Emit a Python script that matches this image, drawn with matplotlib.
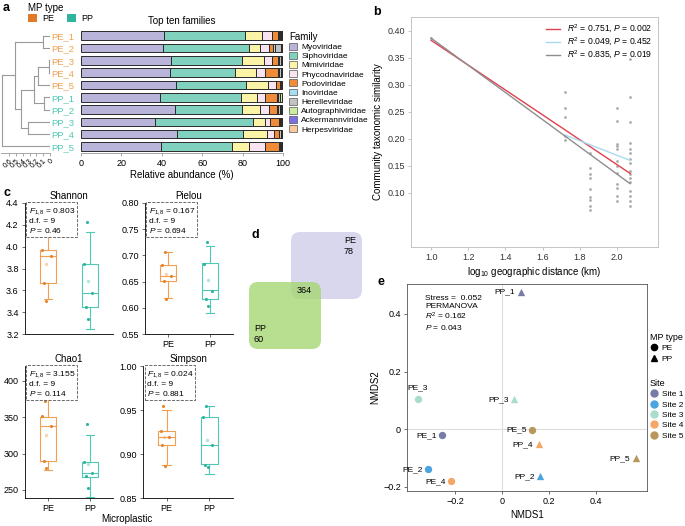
import numpy as np
import matplotlib.pyplot as plt
from matplotlib.patches import Patch, FancyBboxPatch
from matplotlib.lines import Line2D

plt.rcParams['font.family'] = ['Liberation Sans', 'DejaVu Sans']
plt.rcParams['mathtext.fontset'] = 'custom'
plt.rcParams['mathtext.rm'] = 'Liberation Sans'
plt.rcParams['mathtext.it'] = 'Liberation Sans:italic'
plt.rcParams['font.size'] = 6.5
plt.rcParams['axes.linewidth'] = 0.6
plt.rcParams['xtick.major.width'] = 0.6
plt.rcParams['ytick.major.width'] = 0.6
plt.rcParams['xtick.major.size'] = 2.5
plt.rcParams['ytick.major.size'] = 2.5

# ---------------- data ----------------
samples = ['PE_1', 'PE_2', 'PE_3', 'PE_4', 'PE_5', 'PP_1', 'PP_2', 'PP_3', 'PP_4', 'PP_5']
families = ['Myoviridae', 'Siphoviridae', 'Mimiviridae', 'Phycodnaviridae', 'Podoviridae',
            'Inoviridae', 'Herelleviridae', 'Autographiviridae', 'Ackermannviridae', 'Herpesviridae']
myo = [40.9, 40.4, 44.6, 44.3, 46.8, 38.9, 46.6, 36.7, 47.4, 39.7]
sipho = [40.5, 42.6, 35.1, 32.1, 35.1, 40.5, 33.1, 48.5, 32.8, 34.9]
mimi = [8.2, 5.8, 10.9, 10.4, 10.5, 7.6, 8.9, 5.9, 11.9, 8.6]
phyco = [5.0, 4.3, 4.0, 4.3, 4.1, 4.3, 4.5, 2.6, 3.5, 7.9]
podo = [2.9, 2.1, 2.9, 6.4, 1.8, 5.9, 3.9, 4.5, 2.3, 7.1]
ino = [0.3, 1.0, 0.3, 0.3, 0.2, 0.3, 0.3, 0.2, 0.2, 0.2]
herelle = [0.8, 2.6, 1.2, 1.0, 0.6, 0.8, 1.2, 0.6, 0.8, 0.6]
autograph = [0.5, 0.4, 0.3, 0.5, 0.3, 1.0, 0.7, 0.4, 0.5, 0.4]
acker = [0.3, 0.2, 0.2, 0.2, 0.2, 0.2, 0.2, 0.2, 0.2, 0.2]
herpes = [0.6, 0.6, 0.5, 0.5, 0.4, 0.5, 0.6, 0.4, 0.4, 0.4]
fam_colors = ['#B9B4D9', '#80D2BE', '#FBF3A6', '#F8E3F1', '#EE8C3A',
              '#A8DCF4', '#C2C2C2', '#CBEE9E', '#7C70E0', '#FBC99C']

# dendrogram merges: (child a, child b, height); leaves 0-9 in display order
merges = [(0, 1, 0.10), (2, 3, 0.01), (11, 4, 0.175), (5, 6, 0.09), (12, 13, 0.23),
          (7, 8, 0.32), (14, 15, 0.43), (10, 16, 0.51), (17, 9, 0.70)]

# panel b
dist_levels = [1.0, 1.72, 1.855, 2.0, 2.07]
sim_by_dist = [
    [0.387],
    [0.287, 0.256, 0.240, 0.206, 0.198],
    [0.173, 0.146, 0.135, 0.127, 0.108, 0.092, 0.087, 0.075, 0.068],
    [0.256, 0.233, 0.190, 0.186, 0.181, 0.158, 0.149, 0.137, 0.117, 0.109, 0.095, 0.085],
    [0.347, 0.278, 0.231, 0.193, 0.182, 0.173, 0.163, 0.155, 0.141, 0.134, 0.127, 0.121,
     0.104, 0.094, 0.085, 0.075],
]
fit_x = [[1.0, 2.07], [1.72, 2.07], [1.0, 2.07]]
fit_y = [[0.382, 0.136], [0.207, 0.160], [0.386, 0.117]]
fit_labels = [r'$R^2$ = 0.751, $P$ = 0.002', r'$R^2$ = 0.049, $P$ = 0.452',
              r'$R^2$ = 0.835, $P$ = 0.019']
fit_colors = ['#E0404E', '#A9D9EF', '#8E8E8E']

# panel c: box stats (whislo, q1, med, q3, whishi), points, mean
metrics = ['Shannon', 'Pielou', 'Chao1', 'Simpson']
box_pe = [[3.52, 3.67, 3.91, 3.97, 4.16], [0.619, 0.652, 0.661, 0.682, 0.706],
          [277, 290, 338, 350, 375], [0.888, 0.910, 0.919, 0.926, 0.950]]
box_pp = [[3.25, 3.45, 3.58, 3.84, 4.13], [0.590, 0.617, 0.634, 0.686, 0.717],
          [241, 268, 273, 288, 326], [0.877, 0.889, 0.910, 0.942, 0.954]]
pts_pe = [[4.14, 3.97, 3.91, 3.67, 3.50], [0.706, 0.681, 0.661, 0.652, 0.617],
          [372, 351, 338, 290, 280], [0.955, 0.926, 0.919, 0.910, 0.886]]
pts_pp = [[4.23, 3.84, 3.58, 3.45, 3.34], [0.725, 0.684, 0.633, 0.616, 0.603],
          [341, 288, 273, 269, 253], [0.954, 0.942, 0.910, 0.888, 0.885]]
mean_pe = [3.84, 0.665, 326, 0.919]
mean_pp = [3.69, 0.653, 285, 0.916]
jitter = [-0.08, -0.14, 0.06, -0.1, -0.04]
f_vals = ['0.803', '0.167', '3.155', '0.024']
p_vals = ['0.46', '0.694', '0.114', '0.881']
ylims_c = [(3.2, 4.4), (0.55, 0.80), (239, 420), (0.85, 1.00)]
yticks_c = [[3.2, 3.4, 3.6, 3.8, 4.0, 4.2, 4.4], [0.55, 0.60, 0.65, 0.70, 0.75, 0.80],
            [250, 300, 350, 400], [0.85, 0.90, 0.95, 1.00]]
ytick_fmt = ['{:.1f}', '{:.2f}', '{:.0f}', '{:.2f}']

# panel d
venn_counts = {'PE': 78, 'both': 364, 'PP': 60}

# panel e
nmds_names = ['PE_1', 'PE_2', 'PE_3', 'PE_4', 'PE_5', 'PP_1', 'PP_2', 'PP_3', 'PP_4', 'PP_5']
nmds1 = [-0.255, -0.315, -0.357, -0.217, 0.128, 0.081, 0.162, 0.051, 0.157, 0.570]
nmds2 = [-0.021, -0.139, 0.104, -0.181, -0.003, 0.476, -0.163, 0.104, -0.052, -0.101]
site_idx = [0, 1, 2, 3, 4, 0, 1, 2, 3, 4]
site_names = ['Site 1', 'Site 2', 'Site 3', 'Site 4', 'Site 5']
site_colors = ['#777CA6', '#4BA4DE', '#A9DDCB', '#F5A768', '#B8975C']

PE_C, PP_C = '#F0A050', '#4FC9B5'
PE_DARK, PP_DARK = '#E5842C', '#2FB59E'

# ---------------- figure ----------------
W, H = 685, 526
fig = plt.figure(figsize=(W / 100, H / 100), dpi=100)


def box(l, t, r, b):
    return [l / W, 1 - b / H, (r - l) / W, (b - t) / H]


# ---- a: stacked bars ----
ax = fig.add_axes(box(81, 29.6, 283, 153))
ypos = np.arange(len(samples))
left = np.zeros(len(samples))
for vals, col in zip([myo, sipho, mimi, phyco, podo, ino, herelle, autograph, acker, herpes], fam_colors):
    ax.barh(ypos, vals, left=left, height=0.7, color=col, edgecolor='#2a2a2a', linewidth=0.7)
    left += np.array(vals)
ax.set_ylim(9.53, -0.5)
ax.set_xlim(0, 100)
ax.set_yticks(ypos)
ax.set_yticklabels(samples, fontsize=6.8)
for lab, s in zip(ax.get_yticklabels(), samples):
    lab.set_color(PE_C if s.startswith('PE') else PP_C)
ax.tick_params(axis='y', length=0, pad=5)
ax.set_xticks([0, 20, 40, 60, 80, 100])
ax.tick_params(axis='x', labelsize=6.5, color='#999999', pad=2)
for sp in ['top', 'right', 'left']:
    ax.spines[sp].set_visible(False)
ax.spines['bottom'].set_color('#999999')
ax.set_xlabel('Relative abundance (%)', fontsize=7, labelpad=1)
ax.set_title('Top ten families', fontsize=7, pad=4)

# dendrogram
axd = fig.add_axes(box(1, 29.6, 50, 153))
node_y = {i: float(i) for i in range(len(samples))}
node_h = {i: 0.0 for i in range(len(samples))}
for k, (a, b, h) in enumerate(merges):
    nid = len(samples) + k
    for c in (a, b):
        axd.plot([node_h[c], h], [node_y[c], node_y[c]], color='#9A9A9A', lw=0.8)
    axd.plot([h, h], [node_y[a], node_y[b]], color='#9A9A9A', lw=0.8)
    node_y[nid] = (node_y[a] + node_y[b]) / 2
    node_h[nid] = h
axd.set_xlim(0.72, 0)
axd.set_ylim(9.53, -0.5)
axd.set_yticks([])
axd.set_xticks([0.6, 0.5, 0.4, 0.3, 0.2, 0.1, 0])
axd.set_xticklabels(['0.6', '0.5', '0.4', '0.3', '0.2', '0.1', '0'], rotation=45, ha='right',
                    fontsize=5, rotation_mode='anchor')
axd.tick_params(axis='x', length=2, color='#999999', pad=1.5)
for sp in ['top', 'right', 'left']:
    axd.spines[sp].set_visible(False)
axd.spines['bottom'].set_color('#999999')
axd.patch.set_alpha(0)

fam_handles = [Patch(facecolor=c, edgecolor='#555555', linewidth=0.5) for c in fam_colors]
fig.legend(fam_handles, families, title='Family', loc='upper left',
           bbox_to_anchor=(283 / W, 1 - 26 / H), frameon=False, fontsize=6,
           title_fontsize=7, handlelength=1.0, handleheight=0.9, labelspacing=0.1,
           handletextpad=0.5, alignment='left', borderpad=0.2)

mp_handles = [Patch(facecolor='#E07A28'), Patch(facecolor='#2FB49D')]
fig.legend(mp_handles, ['PE', 'PP'], title='MP type', loc='upper left',
           bbox_to_anchor=(22 / W, 1 + 3 / H), frameon=False, fontsize=6.5, ncol=2,
           title_fontsize=7, handlelength=1.0, handleheight=1.0, columnspacing=1.5,
           handletextpad=0.5, alignment='left', borderpad=0.2, labelspacing=0.1)

# ---- b ----
axb = fig.add_axes(box(411, 17, 658, 247))
bx = np.concatenate([[d] * len(v) for d, v in zip(dist_levels, sim_by_dist)])
by = np.concatenate(sim_by_dist)
axb.scatter(bx, by, s=4, color='#ABABAB', linewidths=0, zorder=2)
for xs, ys, lab, col in zip(fit_x, fit_y, fit_labels, fit_colors):
    axb.plot(xs, ys, color=col, lw=1.0, label=lab, zorder=3)
axb.set_xlim(0.892, 2.22)
axb.set_ylim(0.0, 0.425)
axb.set_xticks([1.0, 1.2, 1.4, 1.6, 1.8, 2.0])
axb.set_yticks([0.10, 0.15, 0.20, 0.25, 0.30, 0.35, 0.40])
axb.set_yticklabels(['{:.2f}'.format(v) for v in [0.10, 0.15, 0.20, 0.25, 0.30, 0.35, 0.40]])
for sp in axb.spines.values():
    sp.set_color('#BBBBBB')
axb.tick_params(colors='#333333', labelsize=6.5, pad=2)
axb.tick_params(color='#BBBBBB')
axb.set_ylabel('Community taxonomic similarity', fontsize=7, labelpad=3)
axb.set_xlabel(r'log$_{10}$ geographic distance (km)', fontsize=7, labelpad=2)
axb.legend(loc='upper right', frameon=False, fontsize=6.2, handlelength=1.6,
           labelspacing=0.12, borderaxespad=0.3)

# ---- c ----
c_boxes = [(25, 203, 113, 334), (145, 203, 233, 334), (25, 366, 113, 498), (143, 366, 233, 498)]
for i, m in enumerate(metrics):
    axc = fig.add_axes(box(*c_boxes[i]))
    stats = []
    for bs in (box_pe[i], box_pp[i]):
        stats.append(dict(whislo=bs[0], q1=bs[1], med=bs[2], q3=bs[3], whishi=bs[4], fliers=[]))
    bp = axc.bxp(stats, positions=[1, 2], widths=0.4, showfliers=False, capwidths=0.2)
    for j, col in enumerate([PE_C, PP_C]):
        bp['boxes'][j].set(color=col, lw=0.8)
        bp['medians'][j].set(color=col, lw=0.8)
        for k in (2 * j, 2 * j + 1):
            bp['whiskers'][k].set(color=col, lw=0.8)
            bp['caps'][k].set(color=col, lw=0.8)
    for j, (pts, mn, dark, col) in enumerate([(pts_pe[i], mean_pe[i], PE_DARK, PE_C),
                                              (pts_pp[i], mean_pp[i], PP_DARK, PP_C)]):
        axc.scatter(np.array(jitter) + j + 1, pts, s=5, color=dark, zorder=3, linewidths=0)
        axc.scatter([j + 1 - 0.05], [mn], s=6, color=col, alpha=0.45, zorder=3, linewidths=0)
    axc.set_xlim(0.45, 2.55)
    axc.set_ylim(*ylims_c[i])
    axc.set_yticks(yticks_c[i])
    axc.set_yticklabels([ytick_fmt[i].format(v) for v in yticks_c[i]])
    axc.set_xticks([1, 2])
    if i == 0:
        axc.set_xticklabels([])
        axc.tick_params(axis='x', length=0)
    else:
        axc.set_xticklabels(['PE', 'PP'])
    axc.tick_params(labelsize=6.5, color='#555555', pad=2)
    for sp in ['top', 'right']:
        axc.spines[sp].set_visible(False)
    axc.set_title(m, fontsize=7, pad=3)
    txt = r'$F_{1,8}$ = ' + f_vals[i] + '\nd.f. = 9\n' + r'$P$ = ' + p_vals[i]
    axc.text(0.04, 0.975, txt, transform=axc.transAxes, va='top', ha='left', fontsize=6,
             linespacing=1.15,
             bbox=dict(boxstyle='square,pad=0.25', fc='white', ec='#555555', ls='--', lw=0.6))
fig.text(127 / W, 1 - 519 / H, 'Microplastic', ha='center', va='center', fontsize=7)

# ---- d ----
axv = fig.add_axes(box(240, 225, 375, 360))
axv.set_xlim(240, 375)
axv.set_ylim(360, 225)
axv.axis('off')
axv.add_patch(FancyBboxPatch((291, 232), 71, 67, boxstyle='round,pad=0,rounding_size=9',
                             fc='#D9D7EE', ec='none'))
axv.add_patch(FancyBboxPatch((249, 282), 72, 67, boxstyle='round,pad=0,rounding_size=9',
                             fc='#A6D673', ec='none', alpha=0.8))
axv.text(344, 246, 'PE\n{}'.format(venn_counts['PE']), fontsize=6.5, va='center', ha='left',
         linespacing=1.2)
axv.text(297, 291, str(venn_counts['both']), fontsize=6.5, va='center', ha='left')
axv.text(254, 334, 'PP\n{}'.format(venn_counts['PP']), fontsize=6.5, va='center', ha='left',
         linespacing=1.2)

# ---- e ----
axe = fig.add_axes(box(407, 284, 647, 491))
axe.axhline(0, color='#DDDDDD', lw=0.8, zorder=0)
axe.axvline(0, color='#DDDDDD', lw=0.8, zorder=0)
for n, x, y, si in zip(nmds_names, nmds1, nmds2, site_idx):
    mk = 'o' if n.startswith('PE') else '^'
    axe.scatter(x, y, marker=mk, s=28, color=site_colors[si], zorder=3, linewidths=0)
    if n == 'PE_3':
        axe.annotate(n, (x, y), xytext=(0, 6), textcoords='offset points', ha='center',
                     va='bottom', fontsize=6)
    else:
        axe.annotate(n, (x, y), xytext=(-4, 0), textcoords='offset points', ha='right',
                     va='center', fontsize=6)
axe.set_xlim(-0.404, 0.617)
axe.set_ylim(-0.214, 0.504)
axe.set_xticks([-0.2, 0, 0.2, 0.4])
axe.set_xticklabels(['\u22120.2', '0', '0.2', '0.4'])
axe.set_yticks([-0.2, 0, 0.2, 0.4])
axe.set_yticklabels(['\u22120.2', '0', '0.2', '0.4'])
axe.tick_params(labelsize=6.5, color='#555555', pad=2)
for sp in axe.spines.values():
    sp.set_color('#555555')
axe.set_xlabel('NMDS1', fontsize=7, labelpad=3)
axe.set_ylabel('NMDS2', fontsize=7, labelpad=2)
axe.text(0.075, 0.945, 'Stress =  0.052\nPERMANOVA\n' + r'$R^2$ = 0.162' + '\n' + r'$P$ = 0.043',
         transform=axe.transAxes, va='top', ha='left', fontsize=6, linespacing=1.1)

mt_handles = [Line2D([], [], marker='o', ls='', color='black', markersize=4.5),
              Line2D([], [], marker='^', ls='', color='black', markersize=5)]
fig.legend(mt_handles, ['PE', 'PP'], title='MP type', loc='upper left',
           bbox_to_anchor=(645 / W, 1 - 328 / H), frameon=False, fontsize=6,
           title_fontsize=6.5, handlelength=1.0, handletextpad=0.4, labelspacing=0.3,
           alignment='left', borderpad=0.1)
site_handles = [Line2D([], [], marker='o', ls='', color=c, markersize=5) for c in site_colors]
fig.legend(site_handles, site_names, title='Site', loc='upper left',
           bbox_to_anchor=(645 / W, 1 - 374 / H), frameon=False, fontsize=6,
           title_fontsize=6.5, handlelength=1.0, handletextpad=0.4, labelspacing=0.3,
           alignment='left', borderpad=0.1)

# panel letters
for letter, x, y in [('a', 3, 8), ('b', 373, 12), ('c', 3, 193), ('d', 252, 235), ('e', 377, 282)]:
    fig.text(x / W, 1 - y / H, letter, fontsize=9, fontweight='bold', ha='left', va='center')

fig.savefig('out.png', dpi=100)
